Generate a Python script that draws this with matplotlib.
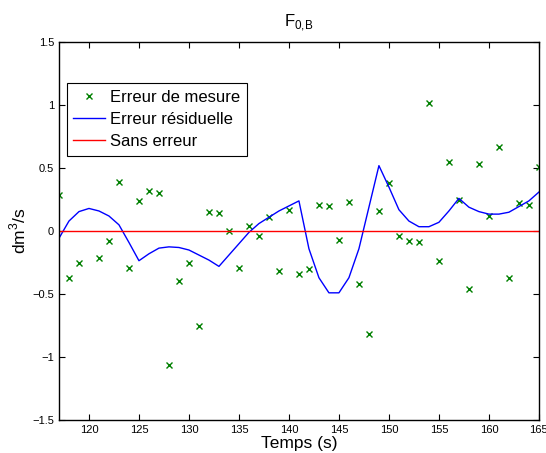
import matplotlib
matplotlib.use("Agg")
import matplotlib.pyplot as plt
import numpy as np

plt.rcParams['font.family'] = ['Liberation Sans', 'DejaVu Sans']

# Measurement error points (time, value)
meas_t = [117, 118, 119, 121, 122, 123, 124, 125, 126, 127, 128, 129, 130, 131, 132, 133,
          134, 135, 136, 137, 138, 139, 140, 141, 142, 143, 144, 145, 146, 147, 148, 149,
          150, 151, 152, 153, 154, 155, 156, 157, 158, 159, 160, 161, 162, 163, 164, 165]
meas_v = [0.29, -0.37, -0.25, -0.21, -0.08, 0.39, -0.29, 0.24, 0.32, 0.30, -1.06, -0.40,
          -0.25, -0.75, 0.15, 0.14, 0.00, -0.29, 0.04, -0.04, 0.11, -0.32, 0.17, -0.34,
          -0.30, 0.21, 0.20, -0.07, 0.23, -0.42, -0.82, 0.16, 0.38, -0.04, -0.08, -0.09,
          1.02, -0.24, 0.55, 0.25, -0.46, 0.53, 0.12, 0.67, -0.37, 0.22, 0.21, 0.51]

# Residual error curve
res_t = list(range(117, 166))
res_v = [-0.057, 0.08, 0.155, 0.18, 0.16, 0.12, 0.05, -0.09, -0.235, -0.18, -0.135, -0.125,
         -0.13, -0.15, -0.19, -0.23, -0.28, -0.19, -0.10, -0.01, 0.06, 0.11, 0.16, 0.20,
         0.24, -0.14, -0.37, -0.49, -0.49, -0.37, -0.14, 0.19, 0.52, 0.35, 0.17, 0.08,
         0.035, 0.035, 0.07, 0.16, 0.26, 0.19, 0.155, 0.135, 0.135, 0.15, 0.195, 0.24, 0.31]

xlim = (117, 165)
ylim = (-1.5, 1.5)
xticks = [120, 125, 130, 135, 140, 145, 150, 155, 160, 165]
yticks = [-1.5, -1, -0.5, 0, 0.5, 1, 1.5]
ytick_labels = ['\u22121.5', '\u22121', '\u22120.5', '0', '0.5', '1', '1.5']

fig = plt.figure(figsize=(5.46, 4.53), dpi=100)
ax = fig.add_axes([0.108, 0.0728, 0.879, 0.834])

ax.plot(meas_t, meas_v, linestyle='none', marker='x', color=(0, 0.5, 0),
        markersize=4, markeredgewidth=1.0, label='Erreur de mesure')
ax.plot(res_t, res_v, color='blue', linewidth=1.0, label='Erreur résiduelle')
ax.plot(xlim, [0, 0], color='red', linewidth=1.0, label='Sans erreur')

ax.set_xlim(*xlim)
ax.set_ylim(*ylim)
ax.set_xticks(xticks)
ax.set_yticks(yticks)
ax.set_yticklabels(ytick_labels)
ax.tick_params(direction='in', top=True, right=True, labelsize=8, length=4, width=0.8)
for s in ax.spines.values():
    s.set_linewidth(1.0)

ax.set_title(r'F$_{\mathregular{0{,}B}}$', fontsize=12, pad=11)
ax.set_xlabel('Temps (s)', fontsize=12.5, labelpad=1)
ax.set_ylabel(r'dm$^{\mathregular{3}}$/s', fontsize=12.5, labelpad=3)

leg = ax.legend(loc='upper left', bbox_to_anchor=(0.016, 0.891), borderaxespad=0,
                fontsize=12, fancybox=False, edgecolor='black', framealpha=1,
                handlelength=1.9, handletextpad=0.3, labelspacing=0.42, borderpad=0.4)
leg.get_frame().set_linewidth(0.8)

fig.savefig('out.png', dpi=100)
